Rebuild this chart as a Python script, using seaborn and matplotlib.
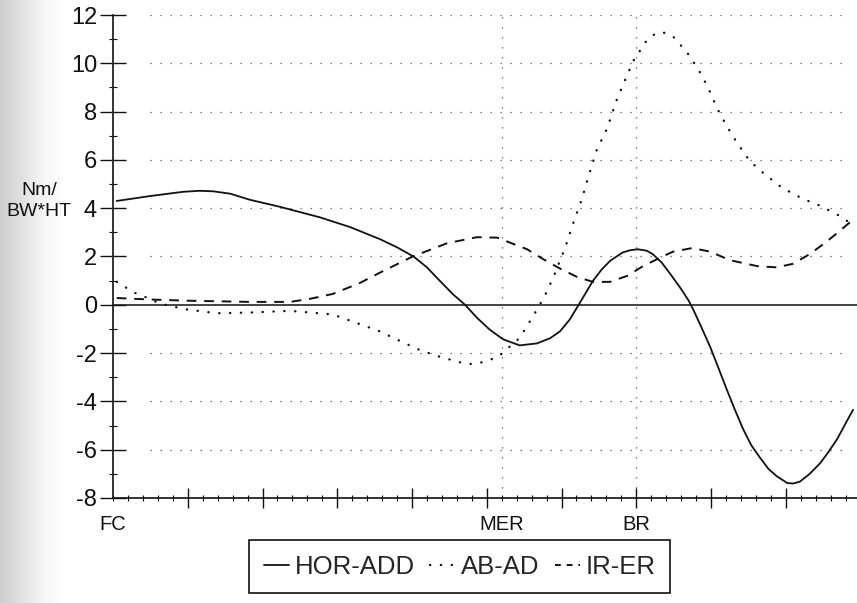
import numpy as np
import matplotlib
matplotlib.use("Agg")
import matplotlib.pyplot as plt
import matplotlib.transforms as mtransforms
from matplotlib.lines import Line2D
from matplotlib.colors import LinearSegmentedColormap
from matplotlib.ticker import FixedLocator, MultipleLocator, NullFormatter
import seaborn as sns

# ---------------- data ----------------
series_names = ["HOR-ADD", "AB-AD", "IR-ER"]

hor_x = [0.05, 0.49, 0.94, 1.16, 1.34, 1.57, 1.83, 2.23, 2.77, 3.17, 3.57, 3.80,
         4.02, 4.20, 4.37, 4.55, 4.71, 4.87, 5.04, 5.22, 5.44, 5.67, 5.85, 5.98,
         6.11, 6.23, 6.42, 6.54, 6.65, 6.82, 6.92, 7.02, 7.14, 7.22, 7.34, 7.45,
         7.59, 7.70, 7.76, 7.87, 7.99, 8.10, 8.21, 8.32, 8.43, 8.54, 8.66, 8.77,
         8.88, 9.02, 9.10, 9.19, 9.32, 9.46, 9.57, 9.69, 9.79, 9.90]
hor_y = [4.30, 4.50, 4.68, 4.72, 4.70, 4.60, 4.35, 4.06, 3.62, 3.22, 2.72, 2.38,
         2.00, 1.55, 1.00, 0.43, 0.00, -0.54, -1.03, -1.43, -1.68, -1.60, -1.38, -1.10,
         -0.61, 0.00, 0.99, 1.47, 1.82, 2.17, 2.26, 2.30, 2.24, 2.10, 1.75, 1.30,
         0.70, 0.18, -0.18, -0.92, -1.75, -2.62, -3.50, -4.35, -5.15, -5.82, -6.35, -6.80,
         -7.10, -7.38, -7.40, -7.32, -7.00, -6.56, -6.10, -5.55, -4.97, -4.35]

abad_x = [0.05, 0.17, 0.27, 0.45, 0.63, 0.96, 1.39, 1.83, 2.37, 2.94, 3.33, 3.57,
          3.84, 4.11, 4.37, 4.64, 4.78, 4.91, 5.04, 5.18, 5.28, 5.40, 5.48, 5.63,
          5.77, 5.89, 6.05, 6.17, 6.27, 6.35, 6.47, 6.61, 6.74, 6.85, 6.96, 7.13,
          7.25, 7.36, 7.49, 7.68, 7.83, 7.96, 8.08, 8.21, 8.36, 8.52, 8.72, 8.95,
          9.22, 9.46, 9.71, 9.93]
abad_y = [0.95, 0.72, 0.52, 0.30, 0.05, -0.18, -0.35, -0.32, -0.25, -0.40, -0.83, -1.10,
          -1.50, -1.88, -2.15, -2.38, -2.45, -2.40, -2.29, -2.08, -1.80, -1.50, -1.17, -0.42,
          0.33, 1.13, 2.38, 3.50, 4.35, 5.20, 6.40, 7.30, 8.50, 9.30, 10.10, 10.90,
          11.22, 11.28, 11.12, 10.45, 9.75, 9.00, 8.15, 7.40, 6.65, 5.95, 5.40, 4.85,
          4.40, 4.10, 3.70, 3.25]

irer_x = [0.05, 0.49, 0.99, 1.83, 2.37, 2.64, 2.94, 3.30, 3.57, 4.01, 4.47, 4.87,
          5.14, 5.54, 5.75, 5.98, 6.21, 6.42, 6.65, 6.88, 7.09, 7.32, 7.49, 7.75,
          7.99, 8.25, 8.62, 8.88, 9.10, 9.32, 9.52, 9.70, 9.89]
irer_y = [0.28, 0.22, 0.17, 0.12, 0.12, 0.25, 0.45, 0.90, 1.33, 2.00, 2.55, 2.80,
          2.78, 2.30, 1.90, 1.50, 1.15, 0.95, 0.95, 1.20, 1.60, 1.95, 2.20, 2.35,
          2.20, 1.85, 1.60, 1.55, 1.70, 2.10, 2.55, 3.00, 3.50]

x_tick_labels = ["FC", "MER", "BR"]
x_label_pos = [0.0, 5.2, 7.0]
event_lines = [5.2, 7.0]
y_major = [-8, -6, -4, -2, 0, 2, 4, 6, 8, 10, 12]
grid_y = [-6, -4, -2, 2, 4, 6, 8, 10, 12]

# ---------------- style ----------------
sns.set_theme(style="white")
plt.rcParams["font.family"] = ["Liberation Sans", "DejaVu Sans"]
plt.rcParams["axes.unicode_minus"] = False

fig = plt.figure(figsize=(8.57, 6.03), dpi=100)
fig.patch.set_facecolor("white")

# scanner shading on the left edge
bg = fig.add_axes([0, 0, 0.075, 1], zorder=-10)
cmap = LinearSegmentedColormap.from_list(
    "scan", ["#cdcdcd", "#dcdcdc", "#ececec", "#f8f8f8", "#ffffff"])
bg.imshow(np.linspace(0, 1, 300)[None, :], cmap=cmap, aspect="auto",
          extent=[0, 1, 0, 1], interpolation="bilinear")
bg.axis("off")

px0, pxw = 113, 74.75
ax = fig.add_axes([px0 / 857, 105 / 603, (857 - px0) / 857, 483 / 603])
ax.patch.set_alpha(0)
ax.set_xlim(0, (857 - px0) / pxw)
ax.set_ylim(-8, 12)

ink = "#111111"
dot_style = (0, (0.1, 4.5))
dash_style = (0, (5, 4))

# dotted reference lines
ax.hlines(grid_y, 0.5, 9.8, colors="#555555", linestyles=[(0, (1, 7))], lw=0.9, zorder=1)
ax.vlines(event_lines, -8, 12, colors="#555555", linestyles=[(0, (1, 7))], lw=0.9, zorder=1)
ax.axhline(0, color=ink, lw=1.1, zorder=2)

sns.lineplot(x=hor_x, y=hor_y, ax=ax, color=ink, lw=1.3, estimator=None, sort=False, zorder=3)
sns.lineplot(x=abad_x, y=abad_y, ax=ax, color=ink, lw=1.7, estimator=None, sort=False,
             linestyle=dot_style, dash_capstyle="round", zorder=3)
sns.lineplot(x=irer_x, y=irer_y, ax=ax, color=ink, lw=1.4, estimator=None, sort=False,
             linestyle=dash_style, zorder=3)

# axes & ticks
for s in ["top", "right"]:
    ax.spines[s].set_visible(False)
for s in ["left", "bottom"]:
    ax.spines[s].set_color(ink)
    ax.spines[s].set_linewidth(1.2)

ax.xaxis.set_major_locator(FixedLocator(range(1, 10)))
ax.xaxis.set_minor_locator(MultipleLocator(0.2))
ax.xaxis.set_major_formatter(NullFormatter())
ax.yaxis.set_major_locator(FixedLocator(y_major))
ax.yaxis.set_minor_locator(MultipleLocator(1))
ax.set_yticklabels([str(v) for v in y_major])

ax.tick_params(axis="x", which="major", bottom=True, direction="inout", length=14, width=1.0, color=ink)
ax.tick_params(axis="x", which="minor", bottom=True, direction="inout", length=5, width=0.8, color=ink)
ax.tick_params(axis="y", which="major", left=True, direction="inout", length=19, width=1.0,
               color=ink, labelsize=17, pad=2, labelcolor=ink)
ax.tick_params(axis="y", which="minor", left=True, direction="inout", length=6, width=0.8, color=ink)
ax.set_xlabel("")
ax.set_ylabel("")

trans = mtransforms.blended_transform_factory(ax.transData, fig.transFigure)
for lab, pos in zip(x_tick_labels, x_label_pos):
    ax.text(pos, 1 - 524 / 603, lab, transform=trans, ha="center", va="center",
            fontsize=14.5, color=ink)

fig.text(39 / 857, 1 - 201 / 603, "Nm/\nBW*HT", ha="center", va="center",
         fontsize=14, linespacing=1.35, color=ink)

handles = [
    Line2D([], [], color=ink, lw=1.3),
    Line2D([], [], color=ink, lw=1.7, linestyle=dot_style, dash_capstyle="round"),
    Line2D([], [], color=ink, lw=1.4, linestyle=(0, (3, 3))),
]
leg = fig.legend(handles, series_names, loc="center", bbox_to_anchor=(0.5362, 0.0605),
                 ncol=3, fontsize=18.5, frameon=True, fancybox=False, edgecolor=ink,
                 framealpha=1, handlelength=1.0, handletextpad=0.2, columnspacing=0.6,
                 borderpad=0.55)
leg.get_frame().set_linewidth(1.2)

fig.savefig("out.png", dpi=100)
